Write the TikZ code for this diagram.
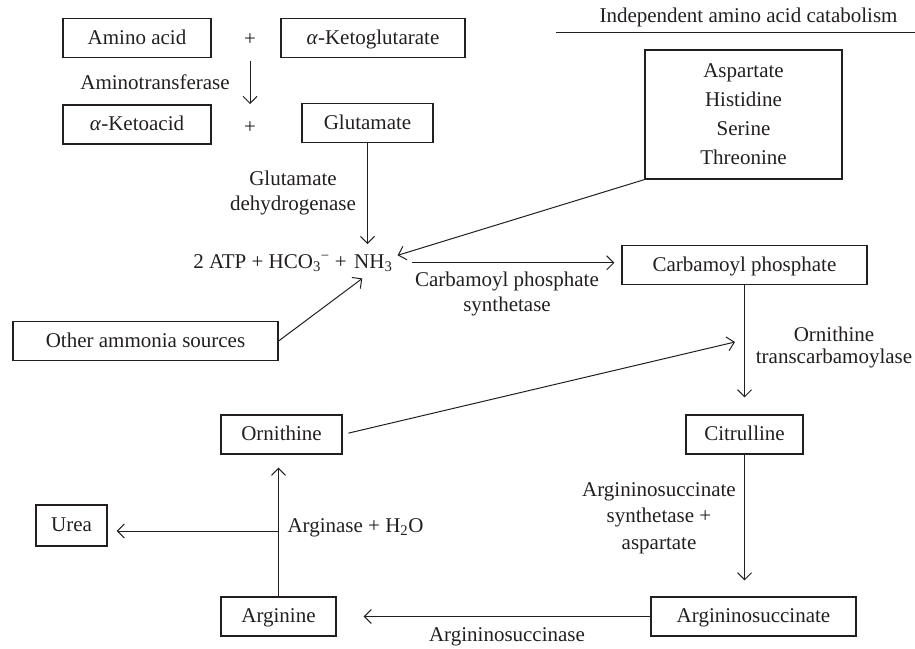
\documentclass[tikz,border=0pt]{standalone}
\usepackage{fontspec}
\setmainfont{Liberation Serif}
\usetikzlibrary{arrows.meta}
\definecolor{ink}{RGB}{35,31,32}

\begin{document}
\begin{tikzpicture}[x=1pt,y=-1pt,color=ink,
  font=\fontsize{21}{25}\selectfont,
  box/.style={draw,line width=1.2pt,minimum height=39pt,text height=15pt,text depth=3pt,inner sep=0pt},
  lbl/.style={align=center,inner sep=0pt},
  arr/.style={-{Straight Barb[length=7pt,width=14pt]},line width=1pt}]
\useasboundingbox (0,0) rectangle (915,648);

\node[box,minimum width=148pt] (amino) at (137,38) {Amino acid};
\node (plusa) at (250,40) {+};
\node[box,minimum width=184pt] (akg) at (373,38) {\textit{α}-Ketoglutarate};
\node[box,minimum width=148pt] (aketo) at (137,124.5) {\textit{α}-Ketoacid};
\node (plusb) at (250,128) {+};
\node[box,minimum width=131pt] (glut) at (367.5,123) {Glutamate};
\node[lbl] (atf) at (155,82) {Aminotransferase};
\draw[arr] ([yshift=-21pt]plusa.center) -- ([yshift=24pt]plusb.center);

\node[lbl] (title) at (748.5,17) {Independent amino acid catabolism};
\draw[line width=1pt] (556,32) -- (915,32);
\node[draw,line width=1.2pt,minimum width=197pt,minimum height=129pt,align=center,
  font=\fontsize{21}{29}\selectfont] (aspart) at (743.5,114.5) {Aspartate\\Histidine\\Serine\\Threonine};

\node[lbl] (gdh) at (293,193) {Glutamate\\dehydrogenase};
\node[anchor=base east,inner sep=0pt] (eq) at (347,268) {2 ATP + HCO\textsubscript{3}\textsuperscript{−} +};
\node[anchor=base west,inner xsep=5pt,inner ysep=10pt] (nh3) at (349,268) {NH\textsubscript{3}};
\node[lbl] (cps) at (507,294) {Carbamoyl phosphate\\synthetase};
\node[box,minimum width=245pt] (carb) at (744.5,265) {Carbamoyl phosphate};
\node[box,minimum width=265pt] (other) at (145.5,341) {Other ammonia sources};

\draw[arr] (glut.south) -- (glut.south |- nh3.north);
\draw[arr] (aspart.south west) -- (nh3);
\draw[arr] (other.east) -- ([xshift=-11pt,yshift=3pt]nh3.south);
\draw[arr,shorten <=14pt,shorten >=7pt] (nh3.east) -- (nh3.east -| carb.west);

\node[lbl,font=\fontsize{21}{22}\selectfont] (otc) at (834,347) {Ornithine\\transcarbamoylase};
\node[box,minimum width=121pt] (orn) at (281.5,434.5) {Ornithine};
\node[box,minimum width=117pt] (citr) at (744.5,434.5) {Citrulline};
\coordinate (otcin) at (735,342);
\draw[arr,shorten >=17pt] (carb.south) -- (citr.north);
\draw[arr,shorten <=6pt] (orn.east) -- (otcin);

\node[box,minimum width=71pt,minimum height=41pt] (urea) at (71.5,525.5) {Urea};
\node[box,minimum width=115pt] (argn) at (278.5,616.5) {Arginine};
\node[box,minimum width=205pt] (argsuc) at (753.5,616.5) {Argininosuccinate};
\node[lbl,font=\fontsize{21}{26.5}\selectfont] (ass) at (659,518) {Argininosuccinate\\synthetase +\\aspartate};
\node[lbl] (arginase) at (355.5,528) {Arginase + H\textsubscript{2}O};
\node[lbl] (asl) at (507,637) {Argininosuccinase};

\draw[arr,shorten >=16pt] (citr.south) -- (citr.south |- argsuc.north);
\draw[arr,shorten >=27pt] (argsuc.west) -- (argn.east);
\draw[arr,shorten >=13pt] (argn.north) -- (argn.north |- orn.south);
\coordinate (split) at (278.5,531);
\draw[arr,shorten >=9pt] (split) -- (split -| urea.east);
\end{tikzpicture}
\end{document}
